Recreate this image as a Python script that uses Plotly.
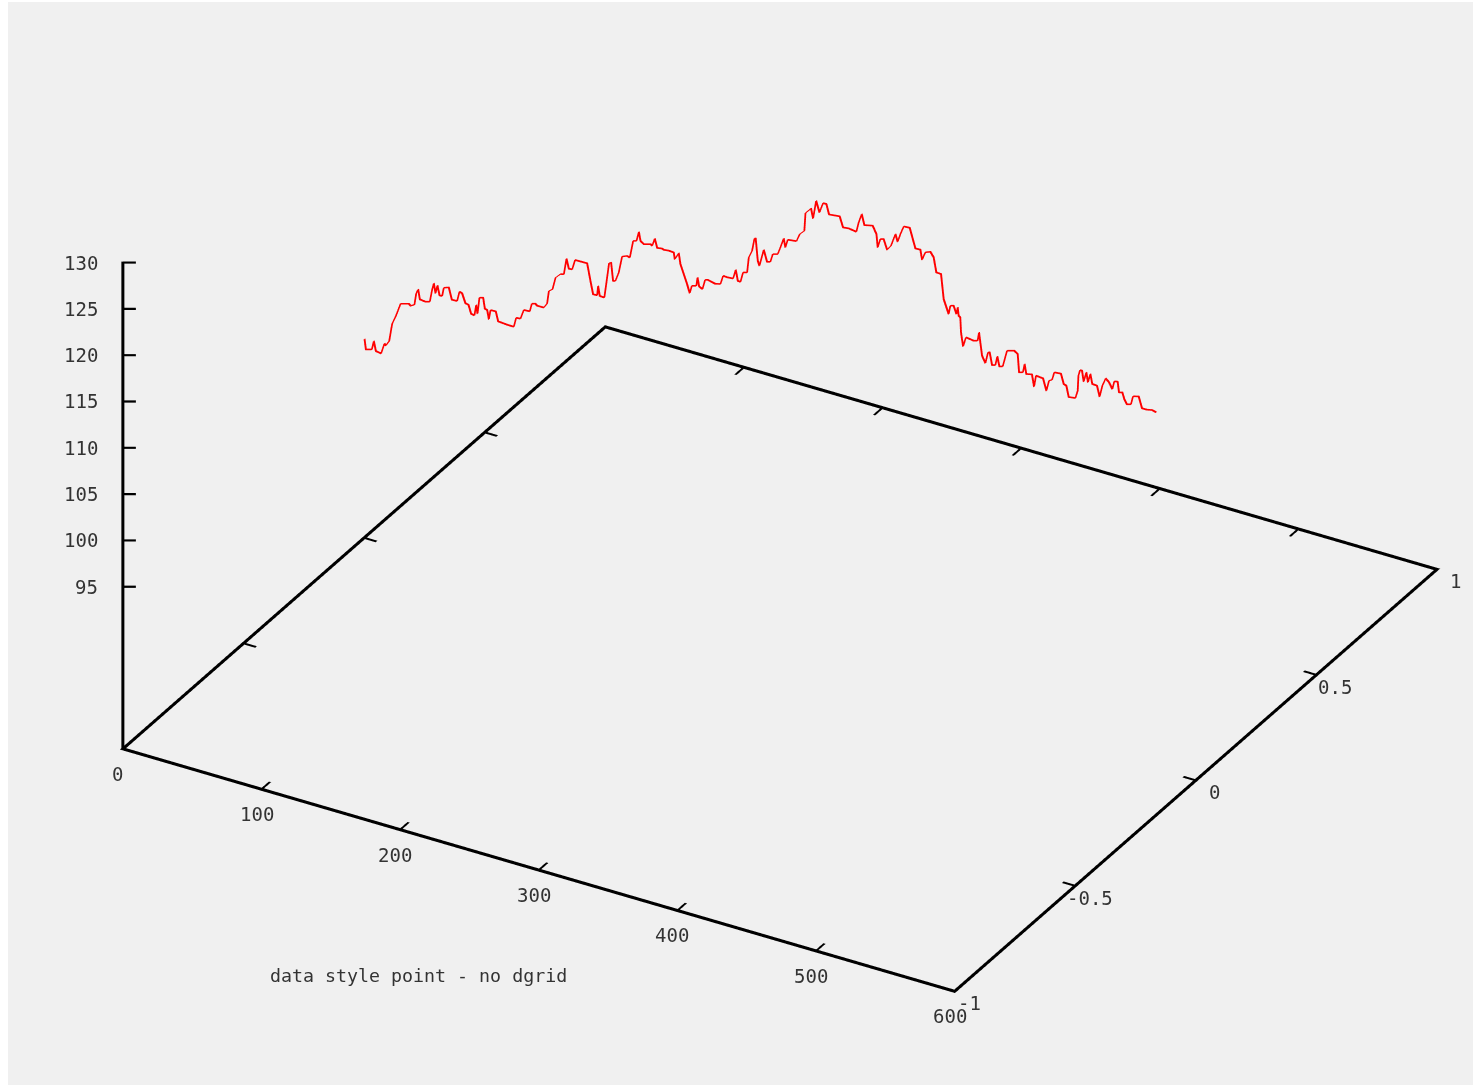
import plotly.graph_objects as go

# series (x, z at y = 0)
x_values = [0,1,5.3,6.7,8.2,12,14.4,15.4,17.8,18.8,20,22.4,24,26,32,33.2,36,37.3,38.7,39.9,44,47.1,48.8,50,51.2,52.6,54.1,56,57.2,60.8,63,66.8,68.5,70.4,72.8,75,76.9,79.3,80.5,81.5,82.9,85.6,86.8,88.5,89.7,90.9,94.7,96.4,102.9,107.7,109.4,112.5,114.9,119.2,120.7,123.3,124.5,129.3,131.7,133,135.6,137.8,141.4,143.8,145.7,147.4,149.8,151.9,160.6,163,164.9,167.8,168.5,169.7,173,174.5,176.4,177.9,179.3,181,183.4,185.8,189.4,
191.4,193.8,196.2,197.9,199.1,201.5,206.3,207.5,209.4,211.1,214.7,215.9,219.5,223.1,223.8,226.7,227.9,230.3,232.7,234.6,236.1,239.4,240.2,241.4,243.8,245.7,247.6,253.1,256.8,258.7,261.6,265.9,267.8,269.3,271.2,273.1,276,277.2,279.6,281.3,282.2,283.7,284.9,288,290.4,292.8,294.5,298.1,300,302.4,303.6,305.3,311.6,314,317.3,318.1,322.1,323.6,325.8,328.2,330.8,333.2,335.1,342.8,345.2,349.3,354.8,356.5,358.7,360.6,366.6,369.3,370.2,372.1,374.5,377,379.8,383,384.6,386.6,389,393.3,397.4,401,402.2,404.6,408.2,410.6,412.5,415.9,417.8,421.4,422.6,425,427,
427.9,428.6,429.8,430.3,431.8,433.9,439.5,442.3,443.3,445.5,447.9,449.8,451,452.7,455.1,456.5,458,460.4,463.5,468.8,471.2,472.2,475,476.2,477.4,481.5,483,484.4,489.5,491.9,493.8,496,497.6,502.4,504.4,506.3,508,512.8,514.5,515,516.2,517.6,518.8,520.7,521.9,523.6,525,528.4,530.3,532.3,534.7,537.1,539.5,540.9,543.3,544.3,546.7,548.1,550,552.9,554.4,558.5,560.9,564.5,568.1,571.2]
z_values = [98.94,97.85,98.04,99.01,97.99,97.9,99.08,98.91,99.49,100.43,101.48,102.32,103,103.88,104.14,103.97,104.21,105.49,105.98,104.96,104.88,105.02,106.42,107.13,106.1,107.02,106.01,106.02,106.97,107.16,105.93,105.95,107.04,106.94,105.97,105.91,105.02,104.95,106.12,105.22,107.02,107.13,106,105.93,104.97,106.03,106.05,105.05,104.97,104.96,106.01,106.04,107.09,107.12,108.02,108.13,107.97,107.97,108.5,109.92,110.22,111.57,112.12,112.2,113.97,112.96,112.99,114.1,114.12,112.32,110.96,110.98,112.02,110.99,110.96,112.64,114.82,114.95,113.03,113.11,114.11,115.95,116.17,
116.08,117.99,118.09,119.14,118.22,117.97,118.18,118.05,118.92,117.99,118.07,117.99,118.06,118.01,117.32,118.1,116.96,115.99,115.01,114.12,114.98,115.13,116.06,115.14,114.96,116.05,116.13,115.94,116.09,117.05,117.02,117.07,118.1,116.97,116.94,118.04,118.16,119.84,120.66,122.06,122.11,119.76,119.27,121.14,119.94,120.05,120.95,121.11,121.91,122.99,122.07,122.98,123.1,123.96,124.47,126.41,127.09,126.07,128.08,126.92,128.05,128.05,127.01,127.14,126.05,126.12,126,127.08,128.08,126.97,127.17,126.38,124.98,125.97,126.07,125.03,125.58,126.98,126.22,127.14,128.07,128.11,126.06,126.08,125.05,125.95,126.17,125.67,124.13,124.1,121.48,120.02,120.97,121.08,120.26,
121.03,120.16,120.03,118.43,116.98,118.05,117.93,118.06,119,116.57,115.88,117.12,117.18,115.88,115.98,116.98,115.96,116.07,117.9,118.13,117.88,115.94,116.07,117.02,115.99,116.13,114.86,116.12,116.05,114.81,115.99,116.18,117.05,117.12,116.09,115.99,114.84,114.94,115.8,117.45,118.11,118.11,116.97,118.06,117.04,118.01,116.99,116.96,115.85,117.13,118.02,117.7,117.07,117.97,118.04,116.92,117.03,116.37,115.89,116.01,116.94,117.11,115.93,115.94,116.06,115.94]
series_y = 0

x_ticks = [0, 100, 200, 300, 400, 500, 600]
y_ticks = [-1, -0.5, 0, 0.5, 1]
y_tick_labels = ["-1", "-0.5", "0", "0.5", "1"]
z_ticks = [95, 100, 105, 110, 115, 120, 125, 130]
z_base = 77.5
caption = "data style point - no dgrid"

W, H = 1473, 1087
EYE_DIST = 3.0
EYE_DIR = (0.4315, -0.7474, 0.505)
CENTER = (-0.0106, -0.1416, -0.2032)
ASPECT = (1.767, 1.775, 0.584 * 1.775)
PAD = 0.02
FONT = dict(family="DejaVu Sans Mono", size=19, color="#333333")
CAPTION_FONT = dict(family="DejaVu Sans Mono", size=18.3, color="#333333")
BLACK = "#000000"

x0, x1, y0, y1 = x_ticks[0], x_ticks[-1], y_ticks[0], y_ticks[-1]
z1 = z_ticks[-1]
xr, yr, zr = x1 - x0, y1 - y0, z1 - z_base

fig = go.Figure()

# series: drawn twice with a small shift, because WebGL lines are one pixel wide
fig.add_trace(go.Scatter3d(x=x_values, y=[series_y] * len(x_values), z=z_values, mode="lines",
                           line=dict(color="#ff0000", width=2), hoverinfo="skip"))
fig.add_trace(go.Scatter3d(x=[v + 0.6 for v in x_values], y=[series_y] * len(x_values),
                           z=[v + 0.09 for v in z_values], mode="lines",
                           line=dict(color="#ff0000", width=2), hoverinfo="skip"))

# axes as flat ribbons so they can be thicker than one pixel
mx, my, mz, mi, mj, mk = [], [], [], [], [], []


def ribbon(p0, p1, off):
    n = len(mx)
    for p, s in ((p0, -1), (p0, 1), (p1, 1), (p1, -1)):
        mx.append(p[0] + s * off[0])
        my.append(p[1] + s * off[1])
        mz.append(p[2] + s * off[2])
    mi.extend([n, n])
    mj.extend([n + 1, n + 2])
    mk.extend([n + 2, n + 3])


HX, HY = 1.25, 0.0057      # half thickness of the frame, data units
ribbon((x0 - HX, y0, z_base), (x1 + HX, y0, z_base), (0, HY, 0))
ribbon((x0 - HX, y1, z_base), (x1 + HX, y1, z_base), (0, HY, 0))
ribbon((x0, y0 - HY, z_base), (x0, y1 + HY, z_base), (HX, 0, 0))
ribbon((x1, y0 - HY, z_base), (x1, y1 + HY, z_base), (HX, 0, 0))
ribbon((x0, y0, z_base), (x0, y0, z1 + 0.1), (0.8, 0.0016, 0))
TX, TY = 0.8, 0.0037
for v in x_ticks[1:-1]:
    ribbon((v, y0, z_base), (v, y0 + 0.035, z_base), (TX, 0, 0))
    ribbon((v, y1, z_base), (v, y1 - 0.035, z_base), (TX, 0, 0))
for v in y_ticks[1:-1]:
    ribbon((x0, v, z_base), (x0 + 9, v, z_base), (0, TY, 0))
    ribbon((x1, v, z_base), (x1 - 9, v, z_base), (0, TY, 0))
for v in z_ticks:
    ribbon((x0, y0, v), (x0 + 7, y0 + 0.0135, v), (0, 0, 0.12))
fig.add_trace(go.Mesh3d(x=mx, y=my, z=mz, i=mi, j=mj, k=mk, color=BLACK, opacity=1,
                        flatshading=True, hoverinfo="skip",
                        lighting=dict(ambient=1, diffuse=0, specular=0, roughness=1, fresnel=0)))

ann = []
for v in x_ticks:
    ann.append(dict(x=v, y=y0, z=z_base, text=str(v), showarrow=False, font=FONT,
                    xanchor="center", yanchor="middle", xshift=-5, yshift=-25))
for v, t in zip(y_ticks, y_tick_labels):
    ann.append(dict(x=x1, y=v, z=z_base, text=t, showarrow=False, font=FONT,
                    xanchor="center", yanchor="middle", xshift=15 if v < 0 else 19, yshift=-12))
for v in z_ticks:
    ann.append(dict(x=x0, y=y0, z=v, text=str(v), showarrow=False, font=FONT,
                    xanchor="right", yanchor="middle", xshift=-23, yshift=0))

hidden = dict(visible=False, showspikes=False)
scale = 1 + 2 * PAD
fig.update_layout(
    width=W, height=H, autosize=False, showlegend=False,
    margin=dict(l=0, r=0, t=0, b=0, pad=0),
    paper_bgcolor="#ffffff",
    shapes=[dict(type="rect", xref="paper", yref="paper", x0=8 / W, x1=1, y0=1 - 1085 / H, y1=1 - 2 / H,
                 fillcolor="#f0f0f0", line_width=0, layer="below")],
    annotations=[dict(xref="paper", yref="paper", x=418.5 / W, y=1 - 975 / H, text=caption,
                      showarrow=False, font=CAPTION_FONT, xanchor="center", yanchor="middle")],
    scene=dict(
        domain=dict(x=[0, 1], y=[0, 1]),
        xaxis=dict(range=[x0 - PAD * xr, x1 + PAD * xr], **hidden),
        yaxis=dict(range=[y0 - PAD * yr, y1 + PAD * yr], **hidden),
        zaxis=dict(range=[z_base - PAD * zr, z1 + PAD * zr], **hidden),
        aspectmode="manual",
        aspectratio=dict(x=ASPECT[0] * scale, y=ASPECT[1] * scale, z=ASPECT[2] * scale),
        bgcolor="rgba(0,0,0,0)",
        camera=dict(projection=dict(type="orthographic"),
                    up=dict(x=0, y=0, z=1),
                    center=dict(x=CENTER[0], y=CENTER[1], z=CENTER[2]),
                    eye=dict(x=CENTER[0] + EYE_DIR[0] * EYE_DIST,
                             y=CENTER[1] + EYE_DIR[1] * EYE_DIST,
                             z=CENTER[2] + EYE_DIR[2] * EYE_DIST)),
        annotations=ann,
    ),
)
fig.write_html("out.html", config=dict(displayModeBar=False),
               post_script="document.body.style.margin='0';document.body.style.overflow='hidden';")
